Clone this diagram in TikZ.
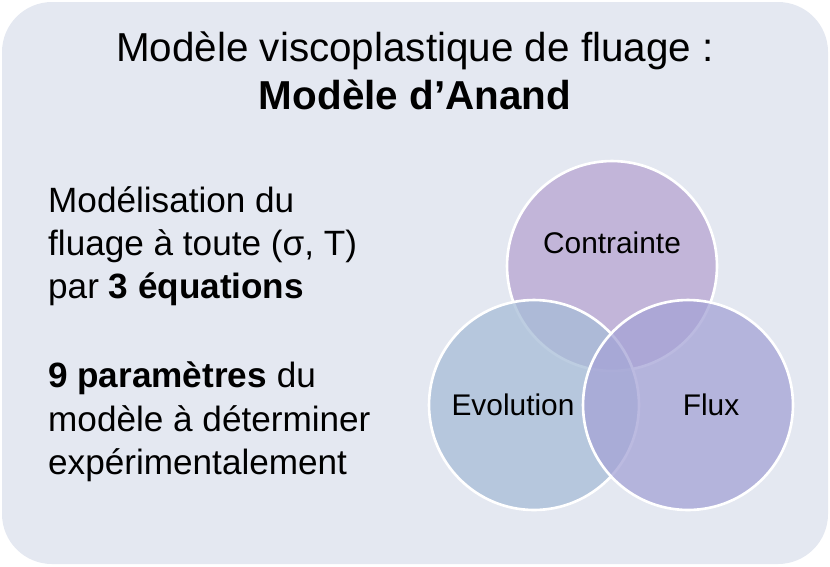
\documentclass[tikz,border=0pt]{standalone}
\usepackage{fontspec}
\setmainfont{Liberation Sans}
\tikzset{x=0.02cm, y=-0.02cm,
every venn/.style={circle, minimum size=4.2cm, draw=white, line width=1.5pt, fill opacity=0.75},
vennlabel/.style={font=\fontsize{17}{20}\selectfont},
bodytext/.style={anchor=north west, align=left, font=\fontsize{20}{24.5}\selectfont}}
\definecolor{panel}{HTML}{E4E8F1}
\definecolor{contr}{HTML}{B7A5D2}
\definecolor{evol}{HTML}{A7BDD7}
\definecolor{flux}{HTML}{A5A3D6}
\begin{document}
\begin{tikzpicture}
    \useasboundingbox (0,0) rectangle (830,566);
    \fill[panel, rounded corners=1cm] (2,2) rectangle (828,564);

    \node[font=\fontsize{23}{27}\selectfont, align=center] (title) at (415,71)
        {Modèle viscoplastique de fluage :\\ \textbf{Modèle d’Anand}};

    \node[bodytext] (model) at (42,180)
        {Modélisation du\\ fluage à toute (σ, T)\\ par \textbf{3 équations}};
    \node[bodytext] (param) at (42,356)
        {\textbf{9 paramètres} du\\ modèle à déterminer\\ expérimentalement};

    \node[every venn, fill=contr] (contrainte) at (612,266) {};
    \node[every venn, fill=evol] (evolution) at (534,405) {};
    \node[every venn, fill=flux] (flux) at (688,405) {};
    \node[vennlabel] at (612,243) {Contrainte};
    \node[vennlabel] at (513,405) {Evolution};
    \node[vennlabel] at (711,405) {Flux};
\end{tikzpicture}
\end{document}
